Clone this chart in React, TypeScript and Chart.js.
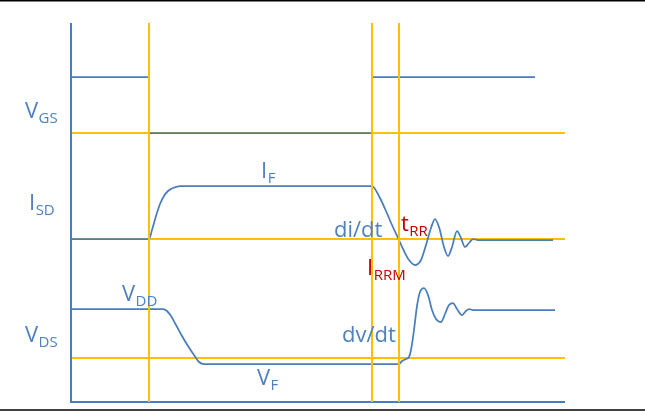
import React, { useEffect, useRef } from "react";
import { Chart, registerables } from "chart.js";

Chart.register(...registerables);

// ---- Data (time on x, level on y; y grows downward as in the schematic) ----
const vgsTime = [71, 149, 149, 372, 372, 535];
const vgsLevel = [77, 77, 133, 133, 77, 77];

const isdTime = [71, 149, 152, 156, 160, 164, 168, 173, 180, 372, 375, 380, 386, 392, 398, 404, 409, 415, 421, 426, 431, 435, 439, 444, 448, 452, 457, 461, 465, 469, 473, 478, 553];
const isdLevel = [239, 239, 230, 216, 204, 196, 191, 188, 186, 186, 189, 198, 211, 225, 238, 251, 260, 265, 260, 245, 228, 219, 227, 247, 256, 247, 231, 238, 247, 243, 239, 240, 240];

const vdsTime = [71, 163, 167, 171, 176, 182, 188, 194, 199, 204, 399, 402, 406, 409, 411, 414, 417, 420, 424, 428, 432, 436, 441, 445, 449, 453, 457, 462, 466, 469, 473, 555];
const vdsLevel = [309, 309, 311, 316, 325, 336, 346, 355, 362, 364, 364, 361, 359, 357, 350, 330, 306, 292, 288, 295, 310, 319, 322, 314, 305, 303, 309, 315, 311, 309, 310, 310];

// reference markers
const markerTimes = [149, 372, 399];
const markerSpan = [23, 402];
const refLevels = [133, 239, 358];
const refSpan = [71, 565];

// axis frame
const axisTime = [71, 71, 565];
const axisLevel = [23, 402, 402];

// page borders
const borderLevels = [0.75, 410];
const borderSpan = [0, 645];

// text annotations: main text, subscript, anchor time, anchor level, colour key
const labelMain = ["V", "I", "V", "V", "I", "di/dt", "t", "I", "dv/dt", "V"];
const labelSub = ["GS", "SD", "DS", "DD", "F", "", "RR", "RRM", "", "F"];
const labelTime = [25, 29, 25, 122, 261, 334, 401, 367, 342, 257];
const labelLevel = [118, 210, 342, 301, 178, 237, 231, 275, 342, 385];
const labelRed = [false, false, false, false, false, false, true, true, false, false];

const BLUE = "#4A7EBB";
const TEXT_BLUE = "#4F81BD";
const YELLOW = "#FFC000";
const RED = "#C00000";

const zip = (xs: number[], ys: number[]) => xs.map((x, i) => ({ x, y: ys[i] }));

const labelPlugin = {
  id: "labels",
  afterDatasetsDraw(chart: any) {
    const { ctx, scales } = chart;
    ctx.save();
    ctx.textBaseline = "alphabetic";
    ctx.textAlign = "left";
    labelMain.forEach((t, i) => {
      const x = scales.x.getPixelForValue(labelTime[i]);
      const y = scales.y.getPixelForValue(labelLevel[i]);
      ctx.fillStyle = labelRed[i] ? RED : TEXT_BLUE;
      ctx.font = "22px 'Open Sans'";
      ctx.fillText(t, x, y);
      const w = ctx.measureText(t).width;
      if (labelSub[i]) {
        ctx.font = "15px 'Open Sans'";
        ctx.fillText(labelSub[i], x + w + 0.5, y + 5);
      }
    });
    ctx.restore();
  },
};

export default function App() {
  const ref = useRef<HTMLCanvasElement | null>(null);

  useEffect(() => {
    document.body.style.margin = "0";
    const canvas = ref.current!;
    const line = (data: any[], color: string, width: number, order: number, extra: any = {}) => ({
      data,
      borderColor: color,
      borderWidth: width,
      pointRadius: 0,
      fill: false,
      order,
      ...extra,
    });

    const datasets: any[] = [];
    markerTimes.forEach((t) =>
      datasets.push(line(zip([t, t], markerSpan), YELLOW, 2, 0))
    );
    datasets.push(
      line(zip(vgsTime, vgsLevel), BLUE, 1.75, 1, {
        segment: {
          borderColor: (c: any) =>
            c.p0.parsed.y === 133 && c.p1.parsed.y === 133 ? "#5B7896" : BLUE,
        },
      })
    );
    datasets.push(line(zip(isdTime, isdLevel), BLUE, 1.75, 1, { cubicInterpolationMode: "monotone" }));
    datasets.push(line(zip(vdsTime, vdsLevel), BLUE, 1.75, 1, { cubicInterpolationMode: "monotone" }));
    datasets.push(line(zip(axisTime, axisLevel), BLUE, 2, 1));
    refLevels.forEach((l) => datasets.push(line(zip(refSpan, [l, l]), YELLOW, 2, 2)));
    borderLevels.forEach((l) => datasets.push(line(zip(borderSpan, [l, l]), "#000000", 1.5, 3)));

    const chart = new Chart(canvas, {
      type: "line",
      data: { datasets },
      options: {
        animation: false,
        responsive: false,
        parsing: false as any,
        layout: { padding: 0 },
        plugins: { legend: { display: false }, tooltip: { enabled: false } },
        scales: {
          x: { type: "linear", min: 0, max: 645, display: false },
          y: { type: "linear", min: 0, max: 416, reverse: true, display: false },
        },
      },
      plugins: [labelPlugin],
    });
    return () => chart.destroy();
  }, []);

  return (
    <div style={{ position: "absolute", left: 0, top: 0, width: 645, height: 416, background: "#fff" }}>
      <canvas ref={ref} width={645} height={416} style={{ width: 645, height: 416 }} />
    </div>
  );
}
